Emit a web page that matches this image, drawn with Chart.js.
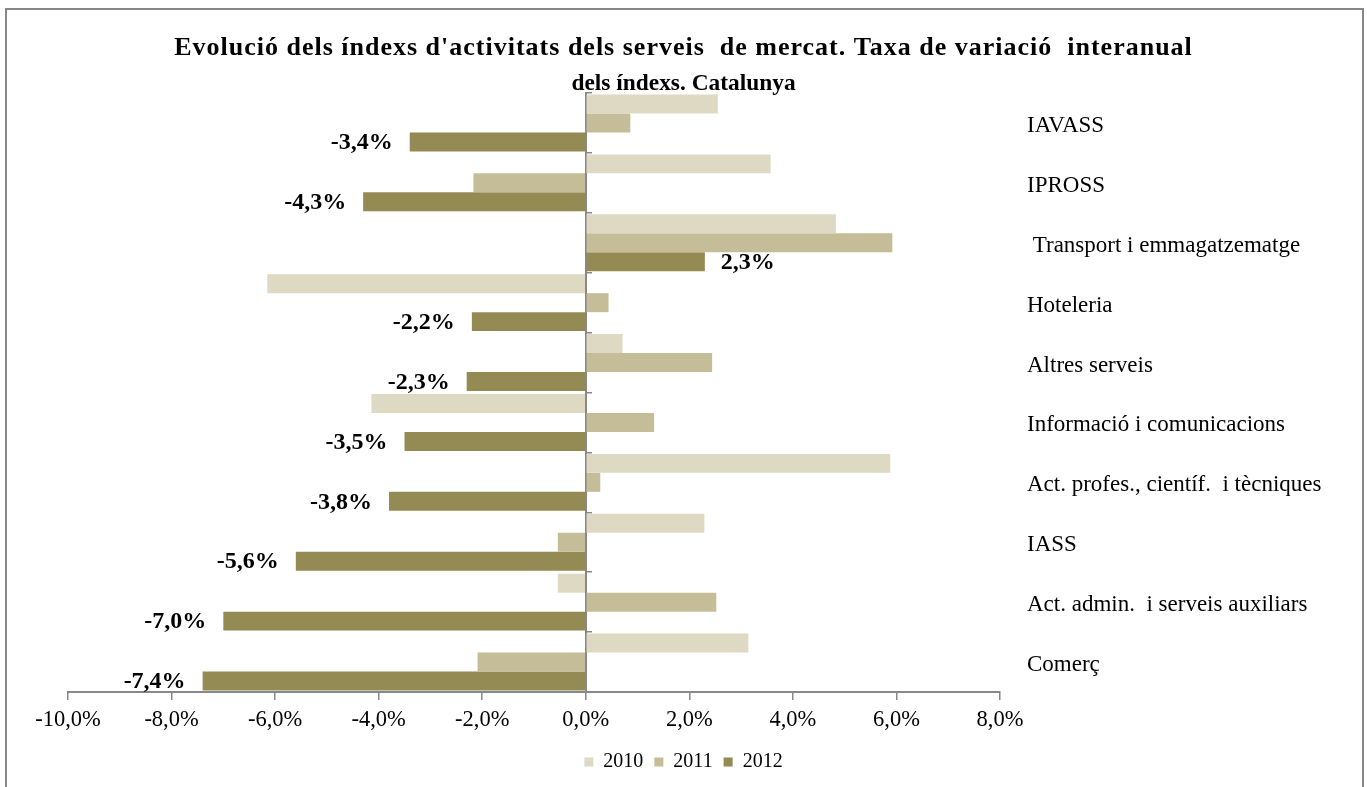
<!DOCTYPE html>
<html>
<head>
<meta charset="utf-8">
<script src="https://cdn.jsdelivr.net/npm/chart.js@4/dist/chart.umd.min.js"></script>
<style>
html,body{margin:0;padding:0;background:#fff;overflow:hidden;}
#wrap{position:absolute;left:0;top:0;width:1367px;height:787px;}
#frame{position:absolute;left:5px;top:8px;width:1355px;height:800px;border:2px solid #888;border-bottom:none;pointer-events:none;}
</style>
</head>
<body>
<div id="wrap"><canvas id="c" width="1367" height="787"></canvas></div>
<div id="frame"></div>
<script>
const titleLine1 = "Evolució dels índexs d'activitats dels serveis  de mercat. Taxa de variació  interanual";
const titleLine2 = "dels índexs. Catalunya";
const categories = ['IAVASS', 'IPROSS', ' Transport i emmagatzematge', 'Hoteleria', 'Altres serveis', 'Informació i comunicacions', 'Act. profes., científ.  i tècniques', 'IASS', 'Act. admin.  i serveis auxiliars', 'Comerç'];
const seriesNames = ['2010', '2011', '2012'];
const values2010 = [2.55, 3.57, 4.83, -6.15, 0.71, -4.14, 5.88, 2.29, -0.54, 3.14];
const values2011 = [0.86, -2.17, 5.92, 0.44, 2.44, 1.32, 0.28, -0.54, 2.52, -2.09];
const values2012 = [-3.4, -4.3, 2.3, -2.2, -2.3, -3.5, -3.8, -5.6, -7.0, -7.4];
const xMin = -10, xMax = 8, xStep = 2;

const serif = "'Liberation Serif', 'Times New Roman', serif";
const colors = ['#DDD9C3', '#C4BD97', '#948A54'];
const fmt = v => v.toFixed(1).replace('.', ',') + '%';

const labelPlugin = {
  id: 'barLabels',
  afterDatasetsDraw(chart) {
    const ctx = chart.ctx;
    const meta = chart.getDatasetMeta(2);
    ctx.save();
    ctx.font = 'bold 24px ' + serif;
    ctx.fillStyle = '#000';
    ctx.textBaseline = 'middle';
    meta.data.forEach((bar, i) => {
      const v = values2012[i];
      if (v < 0) { ctx.textAlign = 'right'; ctx.fillText(fmt(v), bar.x - 17, bar.y + 1); }
      else { ctx.textAlign = 'left'; ctx.fillText(fmt(v), bar.x + 16, bar.y + 1); }
    });
    ctx.restore();
  }
};

const chart = new Chart(document.getElementById('c'), {
  type: 'bar',
  data: {
    labels: categories,
    datasets: [
      {label: seriesNames[0], data: values2010, backgroundColor: colors[0], yAxisID: 'y'},
      {label: seriesNames[1], data: values2011, backgroundColor: colors[1], yAxisID: 'y'},
      {label: seriesNames[2], data: values2012, backgroundColor: colors[2], yAxisID: 'y'}
    ]
  },
  options: {
    indexAxis: 'y',
    responsive: false,
    animation: false,
    devicePixelRatio: 1,
    categoryPercentage: 0.95,
    barPercentage: 1.0,
    layout: {padding: {top: 30.5, left: 0, right: 0, bottom: 5}},
    plugins: {
      tooltip: {enabled: false},
      title: {
        display: true,
        text: titleLine1,
        color: '#000',
        font: {family: serif, size: 26, weight: 'bold', lineHeight: 35/26},
        padding: {top: 0, bottom: 0}
      },
      subtitle: {
        display: true,
        text: titleLine2,
        color: '#000',
        font: {family: serif, size: 23.4, weight: 'bold', lineHeight: 35/23.4},
        padding: {top: 1, bottom: -8.5}
      },
      legend: {
        position: 'bottom',
        labels: {
          color: '#000',
          font: {family: serif, size: 20},
          boxWidth: 9,
          boxHeight: 9,
          padding: 11
        }
      }
    },
    scales: {
      x: {
        type: 'linear',
        min: xMin, max: xMax,
        ticks: {stepSize: xStep, color: '#000', font: {family: serif, size: 22.5}, padding: 7, callback: v => fmt(v)},
        grid: {drawOnChartArea: false, drawTicks: true, tickLength: 8, color: '#888', lineWidth: 1.5},
        border: {display: true, color: '#888', width: 2}
      },
      y: {
        type: 'category',
        position: 'right',
        offset: true,
        ticks: {color: '#000', font: {family: serif, size: 23}, padding: 27, autoSkip: false, labelOffset: 3},
        grid: {display: false, drawTicks: false, offset: true},
        border: {display: false},
        afterFit: s => { s.width = 367; }
      },
      yl: {
        type: 'category',
        position: 'left',
        offset: true,
        ticks: {display: false},
        grid: {display: false, drawTicks: false},
        border: {display: false},
        afterFit: s => { s.width = 68; }
      },
      yz: {
        type: 'category',
        position: {x: 0},
        offset: true,
        ticks: {display: false},
        grid: {display: true, offset: true, drawOnChartArea: false, drawTicks: true, tickLength: -7, color: '#888', lineWidth: 1.5},
        border: {display: true, color: '#888', width: 2}
      }
    }
  },
  plugins: [labelPlugin]
});

// slightly widen the first title line, as in the reference
if (chart.titleBlock) {
  const tb = chart.titleBlock;
  const origDraw = tb.draw.bind(tb);
  tb.draw = function () {
    const ctx = this.ctx;
    const prev = ctx.letterSpacing;
    ctx.letterSpacing = '1px';
    origDraw();
    ctx.letterSpacing = prev || '0px';
  };
  chart.draw();
}
</script>
</body>
</html>
